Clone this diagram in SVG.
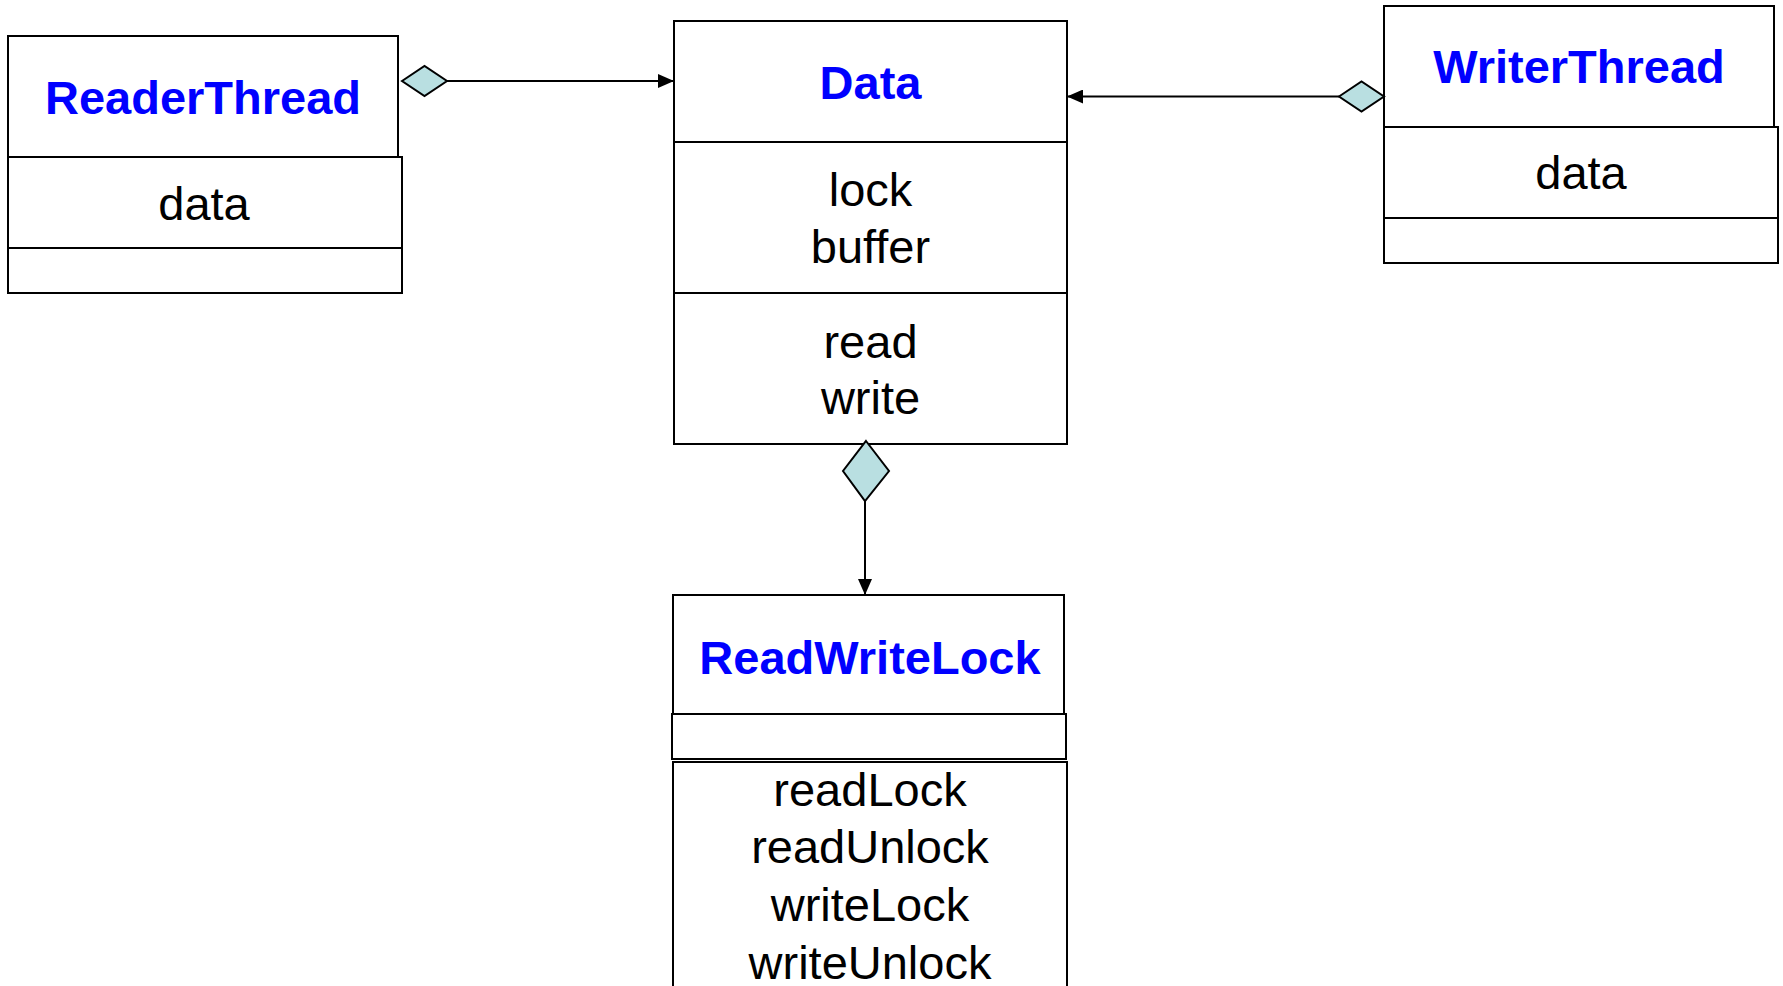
<svg xmlns="http://www.w3.org/2000/svg" width="1783" height="986" viewBox="0 0 1783 986">
  <style>
    .box { fill: #ffffff; stroke: #000000; stroke-width: 2; }
    .title { font-family: "Liberation Sans", Arial, sans-serif; font-weight: bold; font-size: 47px; fill: #0000ff; text-anchor: middle; }
    .member { font-family: "Liberation Sans", Arial, sans-serif; font-size: 47px; fill: #000000; text-anchor: middle; }
    .link { fill: none; stroke: #000000; stroke-width: 2; }
    .diamond { fill: #b9dfe1; stroke: #000000; stroke-width: 2; stroke-linejoin: miter; }
  </style>
  <defs>
    <marker id="arrow" viewBox="0 0 16 14" refX="16" refY="7" markerWidth="16" markerHeight="14" markerUnits="userSpaceOnUse" orient="auto">
      <path d="M0,0 L16,7 L0,14 Z" fill="#000000"/>
    </marker>
  </defs>

  <rect width="1783" height="986" fill="#ffffff"/>

  <!-- ReaderThread class -->
  <g id="ReaderThread">
    <rect class="box" x="8" y="36" width="390" height="121"/>
    <rect class="box" x="8" y="157" width="394" height="91"/>
    <rect class="box" x="8" y="248" width="394" height="45"/>
    <text class="title" x="203" y="114">ReaderThread</text>
    <text class="member" x="204" y="220">data</text>
  </g>

  <!-- Data class -->
  <g id="Data">
    <rect class="box" x="674" y="21" width="393" height="121"/>
    <rect class="box" x="674" y="142" width="393" height="151"/>
    <rect class="box" x="674" y="293" width="393" height="151"/>
    <text class="title" x="870.5" y="99">Data</text>
    <text class="member" x="870.5" y="206">lock</text>
    <text class="member" x="870.5" y="263">buffer</text>
    <text class="member" x="870.5" y="358">read</text>
    <text class="member" x="870.5" y="414">write</text>
  </g>

  <!-- WriterThread class -->
  <g id="WriterThread">
    <rect class="box" x="1384" y="6" width="390" height="121"/>
    <rect class="box" x="1384" y="127" width="394" height="91"/>
    <rect class="box" x="1384" y="218" width="394" height="45"/>
    <text class="title" x="1579" y="83">WriterThread</text>
    <text class="member" x="1581" y="189">data</text>
  </g>

  <!-- ReadWriteLock class -->
  <g id="ReadWriteLock">
    <rect class="box" x="673" y="595" width="391" height="120"/>
    <rect class="box" x="672" y="714" width="394" height="45"/>
    <rect class="box" x="673" y="762" width="394" height="240"/>
    <text class="title" x="870" y="674">ReadWriteLock</text>
    <text class="member" x="870" y="806">readLock</text>
    <text class="member" x="870" y="863">readUnlock</text>
    <text class="member" x="870" y="921">writeLock</text>
    <text class="member" x="870" y="979">writeUnlock</text>
  </g>

  <!-- Aggregation connectors -->
  <g id="connectors">
    <line class="link" x1="447" y1="81" x2="674" y2="81" marker-end="url(#arrow)"/>
    <polygon class="diamond" points="402,81 424.5,66 447,81 424.5,96"/>

    <line class="link" x1="1339" y1="96.5" x2="1067" y2="96.5" marker-end="url(#arrow)"/>
    <polygon class="diamond" points="1339,96.5 1361.5,81.5 1384,96.5 1361.5,111.5"/>

    <line class="link" x1="865" y1="501" x2="865" y2="595" marker-end="url(#arrow)"/>
    <polygon class="diamond" points="866,441 889,471 865,501 843,471"/>
  </g>
</svg>
